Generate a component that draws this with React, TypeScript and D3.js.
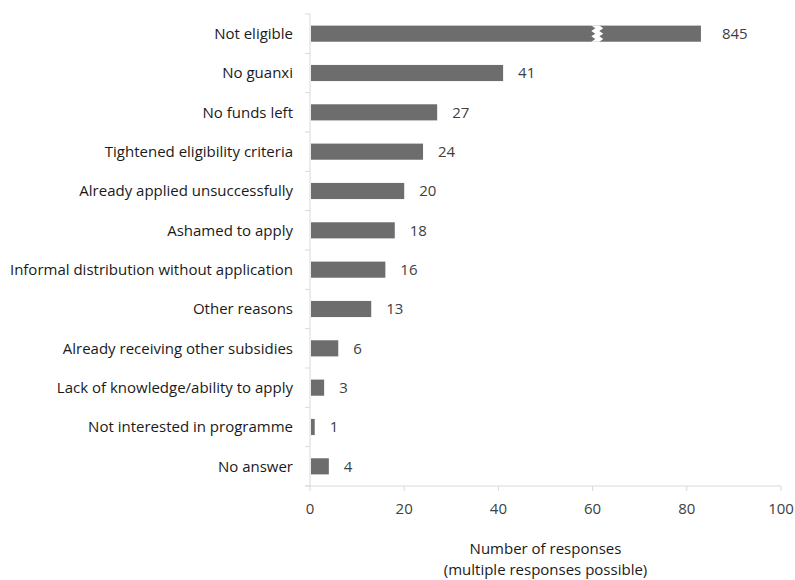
import React, { useEffect, useRef } from 'react';
import * as d3 from 'd3';

const categories = [
  'Not eligible',
  'No guanxi',
  'No funds left',
  'Tightened eligibility criteria',
  'Already applied unsuccessfully',
  'Ashamed to apply',
  'Informal distribution without application',
  'Other reasons',
  'Already receiving other subsidies',
  'Lack of knowledge/ability to apply',
  'Not interested in programme',
  'No answer',
];
// drawn length on the axis (first bar is truncated with a break)
const drawnValues = [83, 41, 27, 24, 20, 18, 16, 13, 6, 3, 1, 4];
const valueLabels = ['845', '41', '27', '24', '20', '18', '16', '13', '6', '3', '1', '4'];
const xTicks = [0, 20, 40, 60, 80, 100];
const breakAt = 61;

const App: React.FC = () => {
  const svgRef = useRef<SVGSVGElement | null>(null);

  useEffect(() => {
    const width = 795;
    const height = 580;
    const margin = { top: 14, right: 14, bottom: 94, left: 310 };
    const font = "'Open Sans', sans-serif";
    const fs = '15px';

    const svg = d3.select(svgRef.current);
    svg.selectAll('*').remove();
    svg.attr('width', width).attr('height', height);

    const x = d3.scaleLinear().domain([0, 100]).range([margin.left, width - margin.right]);
    const y = d3.scaleBand<string>()
      .domain(categories)
      .range([margin.top, height - margin.bottom])
      .paddingInner(0.59)
      .paddingOuter(0.295);
    const yOuter = d3.scaleBand<string>()
      .domain(categories)
      .range([margin.top, height - margin.bottom]);

    const axisColor = '#d9d9d9';
    const bottom = height - margin.bottom;

    // vertical axis
    svg.append('line')
      .attr('x1', x(0)).attr('x2', x(0))
      .attr('y1', margin.top).attr('y2', bottom)
      .attr('stroke', axisColor);
    const yTickPos = categories.map(c => yOuter(c) as number).concat([bottom]);
    svg.selectAll('.ytick')
      .data(yTickPos)
      .enter().append('line')
      .attr('x1', x(0) - 5).attr('x2', x(0))
      .attr('y1', d => d).attr('y2', d => d)
      .attr('stroke', axisColor);

    // horizontal axis
    svg.append('line')
      .attr('x1', x(0) - 5).attr('x2', x(100))
      .attr('y1', bottom).attr('y2', bottom)
      .attr('stroke', axisColor);
    svg.selectAll('.xtick')
      .data(xTicks)
      .enter().append('line')
      .attr('x1', d => x(d)).attr('x2', d => x(d))
      .attr('y1', bottom).attr('y2', bottom + 5)
      .attr('stroke', axisColor);
    svg.selectAll('.xlabel')
      .data(xTicks)
      .enter().append('text')
      .attr('x', d => x(d))
      .attr('y', bottom + 28)
      .attr('text-anchor', 'middle')
      .style('font-family', font)
      .style('font-size', fs)
      .attr('fill', '#404040')
      .text(d => d);

    // bars
    svg.selectAll('.bar')
      .data(categories)
      .enter().append('rect')
      .attr('x', x(0) + 1)
      .attr('y', d => y(d) as number)
      .attr('width', (d, i) => x(drawnValues[i]) - x(0) - 1)
      .attr('height', y.bandwidth())
      .attr('fill', '#6d6d6d');

    // break in first bar: white zigzag gap
    const by = y(categories[0]) as number;
    const bh = y.bandwidth();
    const xc = x(breakAt);
    const teeth = 3;
    const half = bh / (teeth * 2);
    const amp = 4;
    const left: [number, number][] = [];
    const right: [number, number][] = [];
    for (let k = 0; k <= teeth * 2; k++) {
      const off = k % 2 === 0 ? 0 : amp;
      left.push([xc - 6 + off, by + k * half]);
      right.push([xc + 2 + off, by + k * half]);
    }
    const pts = left.concat(right.reverse());
    svg.append('polygon')
      .attr('points', pts.map(p => p.join(',')).join(' '))
      .attr('fill', '#ffffff');

    // value labels
    svg.selectAll('.val')
      .data(categories)
      .enter().append('text')
      .attr('x', (d, i) => x(drawnValues[i]) + (i === 0 ? 21 : 15))
      .attr('y', d => (y(d) as number) + y.bandwidth() / 2)
      .attr('dy', '0.35em')
      .style('font-family', font)
      .style('font-size', fs)
      .attr('fill', '#404040')
      .text((d, i) => valueLabels[i]);

    // category labels
    svg.selectAll('.cat')
      .data(categories)
      .enter().append('text')
      .attr('x', x(0) - 17)
      .attr('y', d => (y(d) as number) + y.bandwidth() / 2)
      .attr('dy', '0.35em')
      .attr('text-anchor', 'end')
      .style('font-family', font)
      .style('font-size', fs)
      .attr('fill', '#1a1a1a')
      .text(d => d);

    // axis title
    const cx = (x(0) + x(100)) / 2;
    svg.append('text')
      .attr('x', cx).attr('y', bottom + 68)
      .attr('text-anchor', 'middle')
      .style('font-family', font)
      .style('font-size', fs)
      .attr('fill', '#1a1a1a')
      .text('Number of responses');
    svg.append('text')
      .attr('x', cx).attr('y', bottom + 89)
      .attr('text-anchor', 'middle')
      .style('font-family', font)
      .style('font-size', fs)
      .attr('fill', '#1a1a1a')
      .text('(multiple responses possible)');
  }, []);

  return (
    <svg ref={svgRef} style={{ position: 'absolute', left: 0, top: 0 }}></svg>
  );
};

export default App;
